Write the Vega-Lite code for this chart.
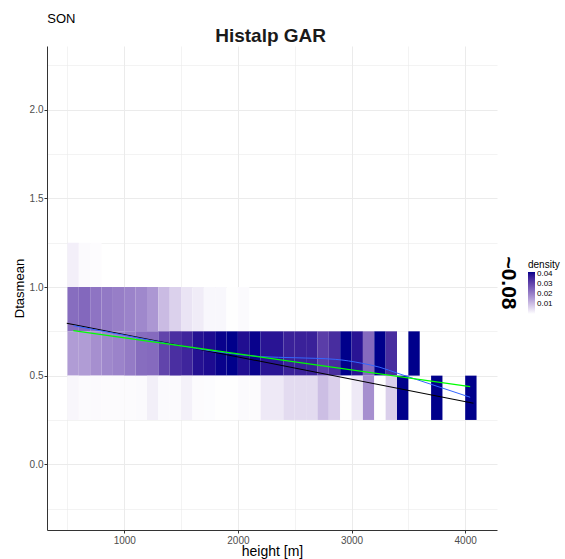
{
  "$schema": "https://vega.github.io/schema/vega-lite/v6.json",
  "width": 450,
  "height": 484,
  "autosize": {"type": "none"},
  "padding": {"left": 47, "top": 46, "right": 68, "bottom": 29},
  "background": "white",
  "config": {
    "view": {"stroke": null},
    "font": "Liberation Sans",
    "axis": {"domainColor": "#333333", "domainWidth": 1, "tickColor": "#333333", "tickSize": 3, "labelColor": "#4D4D4D", "labelFontSize": 10, "labelFont": "Liberation Sans", "titleFont": "Liberation Sans", "titleFontWeight": "normal", "titleColor": "#000000", "gridColor": "#EBEBEB"}
  },
  "datasets": {
    "tiles": [
      {"x": 500, "x2": 600, "y": 1.0, "y2": 1.25, "d": 0.0024},
      {"x": 600, "x2": 700, "y": 1.0, "y2": 1.25, "d": 0.0008},
      {"x": 700, "x2": 800, "y": 1.0, "y2": 1.25, "d": 0.0004},

      {"x": 500, "x2": 600, "y": 0.75, "y2": 1.0, "d": 0.0237},
      {"x": 600, "x2": 700, "y": 0.75, "y2": 1.0, "d": 0.0245},
      {"x": 700, "x2": 800, "y": 0.75, "y2": 1.0, "d": 0.0224},
      {"x": 800, "x2": 900, "y": 0.75, "y2": 1.0, "d": 0.0216},
      {"x": 900, "x2": 1000, "y": 0.75, "y2": 1.0, "d": 0.0207},
      {"x": 1000, "x2": 1100, "y": 0.75, "y2": 1.0, "d": 0.0199},
      {"x": 1100, "x2": 1200, "y": 0.75, "y2": 1.0, "d": 0.0190},
      {"x": 1200, "x2": 1300, "y": 0.75, "y2": 1.0, "d": 0.0165},
      {"x": 1300, "x2": 1400, "y": 0.75, "y2": 1.0, "d": 0.0106},
      {"x": 1400, "x2": 1500, "y": 0.75, "y2": 1.0, "d": 0.0072},
      {"x": 1500, "x2": 1600, "y": 0.75, "y2": 1.0, "d": 0.0042},
      {"x": 1600, "x2": 1700, "y": 0.75, "y2": 1.0, "d": 0.0030},
      {"x": 1700, "x2": 1800, "y": 0.75, "y2": 1.0, "d": 0.0013},
      {"x": 1800, "x2": 1900, "y": 0.75, "y2": 1.0, "d": 0.0013},
      {"x": 1900, "x2": 2000, "y": 0.75, "y2": 1.0, "d": 0.0002},
      {"x": 2000, "x2": 2100, "y": 0.75, "y2": 1.0, "d": 0.0008},

      {"x": 500, "x2": 600, "y": 0.5, "y2": 0.75, "d": 0.0157},
      {"x": 600, "x2": 700, "y": 0.5, "y2": 0.75, "d": 0.0157},
      {"x": 700, "x2": 800, "y": 0.5, "y2": 0.75, "d": 0.0178},
      {"x": 800, "x2": 900, "y": 0.5, "y2": 0.75, "d": 0.0190},
      {"x": 900, "x2": 1000, "y": 0.5, "y2": 0.75, "d": 0.0199},
      {"x": 1000, "x2": 1100, "y": 0.5, "y2": 0.75, "d": 0.0212},
      {"x": 1100, "x2": 1200, "y": 0.5, "y2": 0.75, "d": 0.0237},
      {"x": 1200, "x2": 1300, "y": 0.5, "y2": 0.75, "d": 0.0241},
      {"x": 1300, "x2": 1400, "y": 0.5, "y2": 0.75, "d": 0.0309},
      {"x": 1400, "x2": 1500, "y": 0.5, "y2": 0.75, "d": 0.0347},
      {"x": 1500, "x2": 1600, "y": 0.5, "y2": 0.75, "d": 0.0364},
      {"x": 1600, "x2": 1700, "y": 0.5, "y2": 0.75, "d": 0.0398},
      {"x": 1700, "x2": 1800, "y": 0.5, "y2": 0.75, "d": 0.0406},
      {"x": 1800, "x2": 1900, "y": 0.5, "y2": 0.75, "d": 0.0419},
      {"x": 1900, "x2": 2000, "y": 0.5, "y2": 0.75, "d": 0.0423},
      {"x": 2000, "x2": 2100, "y": 0.5, "y2": 0.75, "d": 0.0402},
      {"x": 2100, "x2": 2200, "y": 0.5, "y2": 0.75, "d": 0.0419},
      {"x": 2200, "x2": 2300, "y": 0.5, "y2": 0.75, "d": 0.0393},
      {"x": 2300, "x2": 2400, "y": 0.5, "y2": 0.75, "d": 0.0393},
      {"x": 2400, "x2": 2500, "y": 0.5, "y2": 0.75, "d": 0.0372},
      {"x": 2500, "x2": 2600, "y": 0.5, "y2": 0.75, "d": 0.0372},
      {"x": 2600, "x2": 2700, "y": 0.5, "y2": 0.75, "d": 0.0372},
      {"x": 2700, "x2": 2800, "y": 0.5, "y2": 0.75, "d": 0.0321},
      {"x": 2800, "x2": 2900, "y": 0.5, "y2": 0.75, "d": 0.0351},
      {"x": 2900, "x2": 3000, "y": 0.5, "y2": 0.75, "d": 0.0423},
      {"x": 3000, "x2": 3100, "y": 0.5, "y2": 0.75, "d": 0.0393},
      {"x": 3100, "x2": 3200, "y": 0.5, "y2": 0.75, "d": 0.0241},
      {"x": 3200, "x2": 3300, "y": 0.5, "y2": 0.75, "d": 0.0423},
      {"x": 3300, "x2": 3400, "y": 0.5, "y2": 0.75, "d": 0.0351},
      {"x": 3500, "x2": 3600, "y": 0.5, "y2": 0.75, "d": 0.0423},

      {"x": 500, "x2": 600, "y": 0.25, "y2": 0.5, "d": 0.0014},
      {"x": 600, "x2": 700, "y": 0.25, "y2": 0.5, "d": 0.0008},
      {"x": 700, "x2": 800, "y": 0.25, "y2": 0.5, "d": 0.0008},
      {"x": 800, "x2": 900, "y": 0.25, "y2": 0.5, "d": 0.0006},
      {"x": 900, "x2": 1000, "y": 0.25, "y2": 0.5, "d": 0.0006},
      {"x": 1000, "x2": 1100, "y": 0.25, "y2": 0.5, "d": 0.0006},
      {"x": 1100, "x2": 1200, "y": 0.25, "y2": 0.5, "d": 0.0008},
      {"x": 1200, "x2": 1300, "y": 0.25, "y2": 0.5, "d": 0.0025},
      {"x": 1300, "x2": 1400, "y": 0.25, "y2": 0.5, "d": 0.0008},
      {"x": 1400, "x2": 1500, "y": 0.25, "y2": 0.5, "d": 0.0008},
      {"x": 1500, "x2": 1600, "y": 0.25, "y2": 0.5, "d": 0.0021},
      {"x": 1600, "x2": 1700, "y": 0.25, "y2": 0.5, "d": 0.0006},
      {"x": 1700, "x2": 1800, "y": 0.25, "y2": 0.5, "d": 0.0005},
      {"x": 1800, "x2": 1900, "y": 0.25, "y2": 0.5, "d": 0.0002},
      {"x": 1900, "x2": 2000, "y": 0.25, "y2": 0.5, "d": 0.0002},
      {"x": 2000, "x2": 2100, "y": 0.25, "y2": 0.5, "d": 0.0008},
      {"x": 2100, "x2": 2200, "y": 0.25, "y2": 0.5, "d": 0.0006},
      {"x": 2200, "x2": 2300, "y": 0.25, "y2": 0.5, "d": 0.0034},
      {"x": 2300, "x2": 2400, "y": 0.25, "y2": 0.5, "d": 0.0034},
      {"x": 2400, "x2": 2500, "y": 0.25, "y2": 0.5, "d": 0.0055},
      {"x": 2500, "x2": 2600, "y": 0.25, "y2": 0.5, "d": 0.0055},
      {"x": 2600, "x2": 2700, "y": 0.25, "y2": 0.5, "d": 0.0055},
      {"x": 2700, "x2": 2800, "y": 0.25, "y2": 0.5, "d": 0.0102},
      {"x": 2800, "x2": 2900, "y": 0.25, "y2": 0.5, "d": 0.0074},
      {"x": 2900, "x2": 3000, "y": 0.25, "y2": 0.5, "d": 0.0002},
      {"x": 3000, "x2": 3100, "y": 0.25, "y2": 0.5, "d": 0.0034},
      {"x": 3100, "x2": 3200, "y": 0.25, "y2": 0.5, "d": 0.0178},
      {"x": 3200, "x2": 3300, "y": 0.25, "y2": 0.5, "d": 0.0002},
      {"x": 3300, "x2": 3400, "y": 0.25, "y2": 0.5, "d": 0.0074},
      {"x": 3400, "x2": 3500, "y": 0.25, "y2": 0.5, "d": 0.0423},
      {"x": 3700, "x2": 3800, "y": 0.25, "y2": 0.5, "d": 0.0423},
      {"x": 4000, "x2": 4100, "y": 0.25, "y2": 0.5, "d": 0.0423}
    ],
    "lm": [
      {"x": 494, "y": 0.796},
      {"x": 4073, "y": 0.344}
    ],
    "green": [
      {"x": 552, "y": 0.754},
      {"x": 4044, "y": 0.438}
    ],
    "blue": [
      {"x": 552, "y": 0.782},
      {"x": 800, "y": 0.752},
      {"x": 1000, "y": 0.728},
      {"x": 1200, "y": 0.703},
      {"x": 1400, "y": 0.679},
      {"x": 1625, "y": 0.654},
      {"x": 1917, "y": 0.626},
      {"x": 2211, "y": 0.607},
      {"x": 2504, "y": 0.601},
      {"x": 2856, "y": 0.592},
      {"x": 3090, "y": 0.570},
      {"x": 3250, "y": 0.547},
      {"x": 3398, "y": 0.515},
      {"x": 3691, "y": 0.453},
      {"x": 4044, "y": 0.378}
    ],
    "son": [{"x": 322, "y": 2.49, "label": "SON"}],
    "maintitle": [{"x": 2288, "y": 2.38, "label": "Histalp GAR"}],
    "side": [{"x": 4377, "y": 1.023, "label": "~0.08"}]
  },
  "layer": [
    {
      "data": {"name": "tiles"},
      "mark": {"type": "rect"},
      "encoding": {
        "x": {"field": "x", "type": "quantitative", "title": "height [m]",
          "scale": {"domain": [320, 4280], "nice": false, "zero": false},
          "axis": {"values": [500, 1000, 1500, 2000, 2500, 3000, 3500, 4000], "labelExpr": "datum.value % 1000 == 0 ? datum.label : ''", "format": "d", "labelPadding": 2, "titleFontSize": 14, "titlePadding": -1,
            "tickOpacity": {"condition": {"test": "datum.value % 1000 != 0", "value": 0}, "value": 1},
            "gridWidth": {"condition": {"test": "datum.value % 1000 != 0", "value": 0.6}, "value": 1}}},
        "x2": {"field": "x2"},
        "y": {"field": "y", "type": "quantitative", "title": "Dtasmean",
          "scale": {"domain": [-0.371, 2.36], "nice": false, "zero": false},
          "axis": {"values": [-0.25, 0, 0.25, 0.5, 0.75, 1, 1.25, 1.5, 1.75, 2, 2.25], "labelExpr": "datum.value % 0.5 == 0 ? format(datum.value, '.1f') : ''", "labelPadding": 1, "titleFontSize": 13, "titlePadding": 3,
            "tickOpacity": {"condition": {"test": "datum.value % 0.5 != 0", "value": 0}, "value": 1},
            "gridWidth": {"condition": {"test": "datum.value % 0.5 != 0", "value": 0.6}, "value": 1}}},
        "y2": {"field": "y2"},
        "color": {"field": "d", "type": "quantitative", "title": "density",
          "scale": {"domain": [0, 0.0423], "range": ["#FFFFFF", "#00008B"], "interpolate": "lab", "clamp": true},
          "legend": {"orient": "none", "legendX": 481, "legendY": 214, "direction": "vertical", "values": [0.01, 0.02, 0.03, 0.04], "format": ".2f", "gradientLength": 42, "gradientThickness": 7, "gradientStrokeWidth": 0, "labelFontSize": 8, "labelColor": "#000000", "labelOffset": 2, "labelOverlap": false, "titleFontSize": 10, "titleFontWeight": "normal", "titleColor": "#000000", "titlePadding": 2}}
      }
    },
    {
      "data": {"name": "lm"},
      "mark": {"type": "line", "color": "#000000", "strokeWidth": 1.1},
      "encoding": {"x": {"field": "x", "type": "quantitative", "title": "height [m]"}, "y": {"field": "y", "type": "quantitative", "title": "Dtasmean"}}
    },
    {
      "data": {"name": "blue"},
      "mark": {"type": "line", "color": "#3366FF", "strokeWidth": 1, "interpolate": "monotone"},
      "encoding": {"x": {"field": "x", "type": "quantitative", "title": "height [m]"}, "y": {"field": "y", "type": "quantitative", "title": "Dtasmean"}}
    },
    {
      "data": {"name": "green"},
      "mark": {"type": "line", "color": "#00FF00", "strokeWidth": 1.1},
      "encoding": {"x": {"field": "x", "type": "quantitative", "title": "height [m]"}, "y": {"field": "y", "type": "quantitative", "title": "Dtasmean"}}
    },
    {
      "data": {"name": "son"},
      "mark": {"type": "text", "align": "left", "baseline": "alphabetic", "fontSize": 13, "color": "#000000"},
      "encoding": {"x": {"field": "x", "type": "quantitative", "title": "height [m]"}, "y": {"field": "y", "type": "quantitative", "title": "Dtasmean"}, "text": {"field": "label"}}
    },
    {
      "data": {"name": "maintitle"},
      "mark": {"type": "text", "align": "center", "baseline": "alphabetic", "fontSize": 19, "fontWeight": "bold", "color": "#1a1a1a"},
      "encoding": {"x": {"field": "x", "type": "quantitative", "title": "height [m]"}, "y": {"field": "y", "type": "quantitative", "title": "Dtasmean"}, "text": {"field": "label"}}
    },
    {
      "data": {"name": "side"},
      "mark": {"type": "text", "align": "center", "baseline": "middle", "angle": 90, "fontSize": 21, "fontWeight": "bold", "color": "#000000"},
      "encoding": {"x": {"field": "x", "type": "quantitative", "title": "height [m]"}, "y": {"field": "y", "type": "quantitative", "title": "Dtasmean"}, "text": {"field": "label"}}
    }
  ]
}
